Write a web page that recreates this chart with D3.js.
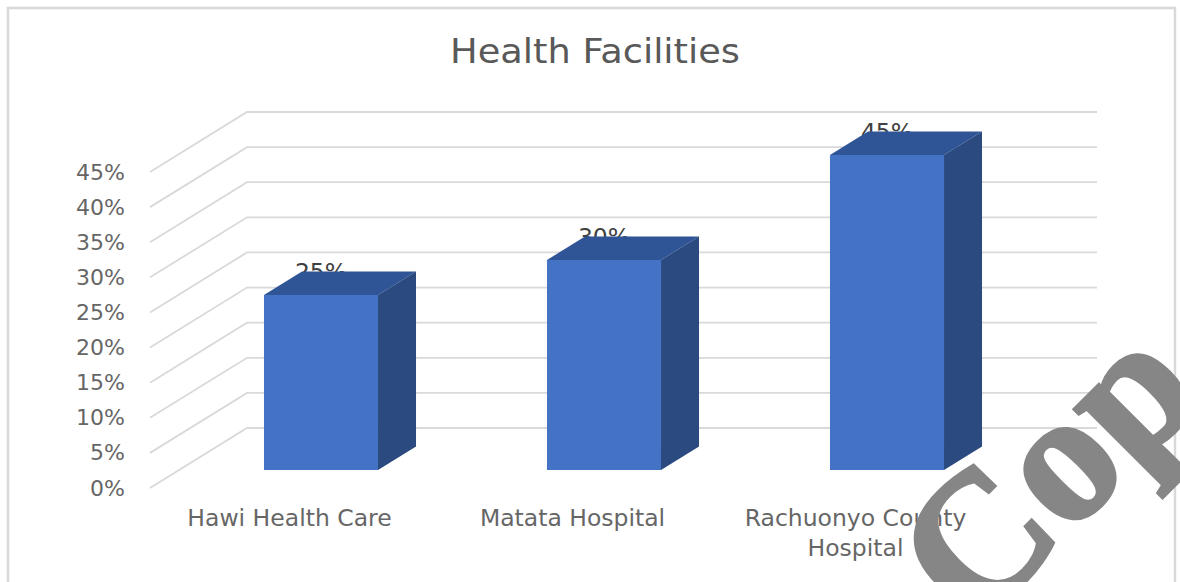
<!DOCTYPE html>
<html>
<head>
<meta charset="utf-8">
<script src="https://cdn.jsdelivr.net/npm/d3@7"></script>
<style>
  html, body { margin: 0; padding: 0; background: #fff; overflow: hidden; }
  text { font-family: "DejaVu Sans", sans-serif; }
</style>
</head>
<body>
<svg id="chart"></svg>
<script>
const categories = ['Hawi Health Care', 'Matata Hospital', 'Rachuonyo County Hospital'];
const values = [25, 30, 45];
const tickValues = [0, 5, 10, 15, 20, 25, 30, 35, 40, 45];

const width = 1180, height = 582;
const depthX = 38, depthY = 23.5;      // bar depth
const wallX = 97, wallY = 60;          // floor depth, front of the grid to the back wall

const svg = d3.select('#chart').attr('width', width).attr('height', height);

// Frame
svg.append('path')
    .attr('d', `M8,582V8H1175V582`)
    .attr('fill', 'none')
    .attr('stroke', '#d9d9d9')
    .attr('stroke-width', 2.5);

// The original title is stretched sideways
svg.append('text')
    .attr('x', 595).attr('y', 63)
    .attr('text-anchor', 'middle')
    .attr('font-size', 33)
    .attr('textLength', 290)
    .attr('lengthAdjust', 'spacingAndGlyphs')
    .attr('fill', '#595959')
    .text('Health Facilities');

// Scales
const xScale = d3.scaleBand()
    .domain(categories)
    .range([179.5, 1028.5])
    .paddingInner(0.597)
    .paddingOuter(0.2985);

const yBar = d3.scaleLinear().domain([0, 45]).range([470, 155]);
const yTick = d3.scaleLinear().domain([0, 45]).range([488, 172]);

// Gridlines: side wall then back wall
svg.append('g').selectAll('path')
    .data(tickValues)
  .join('path')
    .attr('d', d => `M150,${yTick(d)}L${150 + wallX},${yTick(d) - wallY}H1097`)
    .attr('fill', 'none')
    .attr('stroke', '#d9d9d9')
    .attr('stroke-width', 1.8);

// Axes
const yAxis = d3.axisLeft(yTick)
    .tickValues(tickValues)
    .tickSize(0)
    .tickPadding(0)
    .tickFormat(d => d + '%');

svg.append('g')
    .attr('transform', 'translate(125,0)')
    .call(yAxis)
    .call(g => g.select('.domain').remove())
    .call(g => g.selectAll('text')
        .attr('font-size', 22)
        .attr('font-family', '"DejaVu Sans", sans-serif')
        .attr('fill', '#666666'));

const xAxis = d3.axisBottom(xScale).tickSize(0).tickPadding(0);

svg.append('g')
    .attr('transform', 'translate(-31.5,509.5)')
    .call(xAxis)
    .call(g => g.select('.domain').remove())
    .call(g => g.selectAll('text')
        .attr('font-size', 23.5)
        .attr('font-family', '"DejaVu Sans", sans-serif')
        .attr('fill', '#666666')
        .each(function (d) {
          // only the long label wraps, after its second word
          if (d.length < 20) return;
          const words = d.split(' ');
          const t = d3.select(this).text(null);
          t.append('tspan').attr('x', 0).attr('dy', '0.71em').text(words.slice(0, 2).join(' '));
          t.append('tspan').attr('x', 0).attr('dy', '1.28em').text(words.slice(2).join(' '));
        }));

// Data labels sit behind the bars
const bars = categories.map((c, i) => ({ category: c, value: values[i] }));

svg.append('g').selectAll('text')
    .data(bars)
  .join('text')
    .attr('x', d => xScale(d.category) + xScale.bandwidth() / 2)
    .attr('y', d => yBar(d.value) - 15)
    .attr('text-anchor', 'middle')
    .attr('font-size', 23.5)
    .attr('fill', '#404040')
    .text(d => d.value + '%');

// 3D bars
const bar = svg.append('g').selectAll('g')
    .data(bars)
  .join('g');

bar.append('rect')
    .attr('x', d => xScale(d.category))
    .attr('y', d => yBar(d.value))
    .attr('width', xScale.bandwidth())
    .attr('height', d => yBar(0) - yBar(d.value))
    .attr('fill', '#4472c4');

bar.append('path')
    .attr('d', d => {
      const x = xScale(d.category), w = xScale.bandwidth(), y = yBar(d.value);
      return `M${x},${y}L${x + depthX},${y - depthY}H${x + w + depthX}L${x + w},${y}Z`;
    })
    .attr('fill', '#2f5597');

bar.append('path')
    .attr('d', d => {
      const x = xScale(d.category) + xScale.bandwidth(), y = yBar(d.value), y0 = yBar(0);
      return `M${x},${y}L${x + depthX},${y - depthY}V${y0 - depthY}L${x},${y0}Z`;
    })
    .attr('fill', '#2a4a80');

// Watermark, runs off the page like the original
svg.append('text')
    .attr('transform', 'translate(973,631) rotate(-45)')
    .attr('font-size', 185)
    .attr('font-weight', 'bold')
    .attr('fill', '#868686')
    .attr('stroke', '#868686')
    .attr('stroke-width', 4)
    .style('font-family', '"Liberation Serif", serif')
    .text('Cop');
</script>
</body>
</html>
